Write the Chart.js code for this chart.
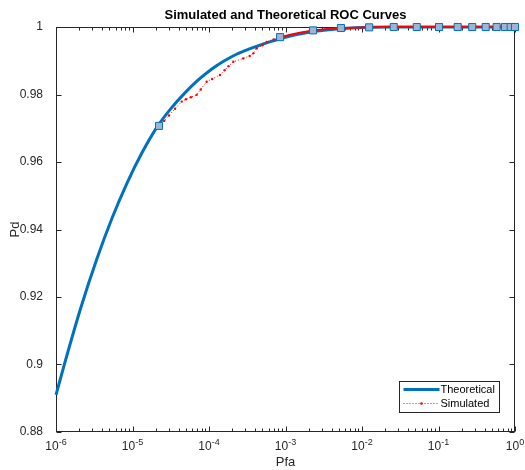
<!DOCTYPE html>
<html>
<head>
<meta charset="utf-8">
<script src="https://cdn.jsdelivr.net/npm/chart.js@4.4.1/dist/chart.umd.min.js"></script>
<style>
  html, body { margin: 0; padding: 0; background: #fff; }
  canvas { display: block; }
</style>
</head>
<body>
<canvas id="roc" width="525" height="470"></canvas>
<script>
// Theoretical curve
const pfaTheory = [1e-6, 1.3e-6, 2.11e-6, 3.4e-6, 5.41e-6, 8.54e-6, 1.335e-5, 2.07e-5, 3.17e-5, 4.81e-5, 7.23e-5, 1.078e-4, 1.591e-4, 2.326e-4, 3.369e-4, 4.834e-4, 6.871e-4, 9.676e-4, 1.35e-3, 2.555e-3, 4.661e-3, 8.2e-3, 2.28e-2, 1e-1, 1];
const pdTheory = [0.891, 0.9004, 0.9168, 0.9311, 0.9434, 0.9539, 0.9628, 0.9702, 0.9758, 0.9804, 0.9843, 0.9875, 0.99, 0.992, 0.9935, 0.9948, 0.9959, 0.9969, 0.9977, 0.9988, 0.9994, 0.9998, 1, 1, 1];

// Simulated curve
const pfaSim = [2.2e-5, 2.6e-5, 3.0e-5, 3.6e-5, 4.4e-5, 5.0e-5, 5.8e-5, 6.9e-5, 7.8e-5, 9.3e-5, 1.1e-4, 1.39e-4, 1.6e-4, 1.8e-4, 2.08e-4, 2.8e-4, 3.4e-4, 3.8e-4, 4.2e-4, 5.0e-4, 5.7e-4, 7.0e-4, 8.5e-4, 1.2e-3, 1.6e-3, 2.3e-3, 3.5e-3, 5.3e-3, 8e-3, 1.24e-2, 2e-2, 5e-2, 1e-1, 3e-1, 1];
const pdSim = [0.9707, 0.9722, 0.9738, 0.9758, 0.9779, 0.9786, 0.9792, 0.9799, 0.9815, 0.9838, 0.9846, 0.9858, 0.9872, 0.9884, 0.9897, 0.9907, 0.9914, 0.9922, 0.9937, 0.9946, 0.9956, 0.9963, 0.997, 0.9978, 0.9984, 0.999, 0.9994, 0.9997, 0.9998, 0.9999, 1, 1, 1, 1, 1];

// square markers along the curves
const pfaMarks = [2.22e-5, 8.5e-4, 2.29e-3, 5.3e-3, 1.24e-2, 2.6e-2, 5.2e-2, 0.1016, 0.178, 0.276, 0.414, 0.575, 0.74, 0.879, 1];
const pdMarks = [0.9707, 0.997, 0.999, 0.9997, 0.9999, 1, 1, 1, 1, 1, 1, 1, 1, 1, 1];

// x tick labels: 10^exp
const xTickVals = [1e-6, 1e-5, 1e-4, 1e-3, 1e-2, 1e-1, 1];
const xTickExp = ["-6", "-5", "-4", "-3", "-2", "-1", "0"];

const axisColor = "#262626";
const fontFam = "'Liberation Sans', Arial, sans-serif";
Chart.defaults.font.family = fontFam;

// box, inward ticks, x labels (with exponent) and legend, MATLAB style
const matlabAxes = {
  id: "matlabAxes",
  beforeDatasetsDraw(chart) {
    const { ctx, chartArea: a, scales: { x, y } } = chart;
    const l = Math.round(a.left) + 0.5, r = Math.round(a.right) - 0.5;
    const t = Math.round(a.top) + 0.5, b = Math.round(a.bottom) - 0.5;
    ctx.save();
    ctx.strokeStyle = axisColor;
    ctx.lineWidth = 1;
    ctx.strokeRect(l, t, r - l, b - t);
    ctx.beginPath();
    // x major + minor ticks
    for (let k = 0; k < xTickVals.length; k++) {
      const px = Math.round(x.getPixelForValue(xTickVals[k])) + 0.5;
      ctx.moveTo(px, b); ctx.lineTo(px, b - 5);
      ctx.moveTo(px, t); ctx.lineTo(px, t + 5);
      if (k < xTickVals.length - 1) {
        for (let m = 2; m <= 9; m++) {
          const mx = Math.round(x.getPixelForValue(m * xTickVals[k])) + 0.5;
          ctx.moveTo(mx, b); ctx.lineTo(mx, b - 3);
          ctx.moveTo(mx, t); ctx.lineTo(mx, t + 3);
        }
      }
    }
    // y ticks
    y.ticks.forEach((tk) => {
      const py = Math.round(y.getPixelForValue(tk.value)) + 0.5;
      ctx.moveTo(l, py); ctx.lineTo(l + 5, py);
      ctx.moveTo(r, py); ctx.lineTo(r - 5, py);
    });
    ctx.stroke();

    // x tick labels
    ctx.fillStyle = axisColor;
    ctx.textBaseline = "alphabetic";
    ctx.textAlign = "left";
    xTickVals.forEach((v, k) => {
      const px = x.getPixelForValue(v);
      ctx.font = "12px " + fontFam;
      const w1 = ctx.measureText("10").width;
      ctx.font = "9px " + fontFam;
      const w2 = ctx.measureText(xTickExp[k]).width;
      const x0 = px - (w1 + w2) / 2;
      ctx.font = "12px " + fontFam;
      ctx.fillText("10", x0, b + 18.5);
      ctx.font = "9px " + fontFam;
      ctx.fillText(xTickExp[k], x0 + w1, b + 13);
    });
    ctx.restore();
  },
  afterDraw(chart) {
    const { ctx, chartArea: a } = chart;
    const lx = Math.round(a.right) - 115.5, ly = Math.round(a.bottom) - 50.5;
    ctx.save();
    ctx.fillStyle = "#fff";
    ctx.fillRect(lx, ly, 100, 31);
    ctx.strokeStyle = axisColor;
    ctx.lineWidth = 1;
    ctx.strokeRect(lx, ly, 100, 31);
    // theoretical
    ctx.strokeStyle = "rgb(0,114,189)";
    ctx.lineWidth = 3;
    ctx.beginPath();
    ctx.moveTo(lx + 4, ly + 8); ctx.lineTo(lx + 40, ly + 8);
    ctx.stroke();
    // simulated
    ctx.strokeStyle = "rgb(255,0,0)";
    ctx.lineWidth = 1;
    ctx.setLineDash([1, 2]);
    ctx.beginPath();
    ctx.moveTo(lx + 4, ly + 22); ctx.lineTo(lx + 40, ly + 22);
    ctx.stroke();
    ctx.setLineDash([]);
    ctx.fillStyle = "rgb(255,0,0)";
    ctx.beginPath();
    ctx.arc(lx + 22, ly + 22, 1.3, 0, Math.PI * 2);
    ctx.fill();
    ctx.fillStyle = "#000";
    ctx.font = "11px " + fontFam;
    ctx.textBaseline = "middle";
    ctx.fillText("Theoretical", lx + 41, ly + 8);
    ctx.fillText("Simulated", lx + 41, ly + 22);
    ctx.restore();
  },
};

const toPts = (xs, ys) => xs.map((v, i) => ({ x: v, y: ys[i] }));

new Chart(document.getElementById("roc"), {
  type: "line",
  data: {
    datasets: [
      {
        label: "Theoretical",
        data: toPts(pfaTheory, pdTheory),
        borderColor: "rgb(0,114,189)",
        borderWidth: 3,
        pointRadius: 0,
        cubicInterpolationMode: "monotone",
        clip: 5,
        order: 3,
      },
      {
        label: "Simulated",
        data: toPts(pfaSim, pdSim),
        borderColor: "rgb(255,0,0)",
        backgroundColor: "rgb(255,0,0)",
        borderWidth: 1,
        pointRadius: (c) => (pfaSim[c.dataIndex] < 8e-4 ? 1.2 : 0),
        pointBorderWidth: 0,
        segment: {
          borderDash: (c) => (pfaSim[c.p0DataIndex] >= 8e-4 ? [] : [1, 2]),
          borderWidth: (c) => (pfaSim[c.p0DataIndex] >= 8e-4 ? 2 : 1),
        },
        clip: 5,
        order: 2,
      },
      {
        label: "marks",
        data: toPts(pfaMarks, pdMarks),
        showLine: false,
        pointStyle: "rect",
        pointRadius: 5,
        pointBorderWidth: 1,
        pointBorderColor: "rgb(0,114,189)",
        pointBackgroundColor: "rgb(160,180,208)",
        clip: false,
        order: 1,
      },
    ],
  },
  options: {
    responsive: false,
    animation: false,
    devicePixelRatio: 1,
    layout: { padding: { left: 0, right: 10, top: 0, bottom: 0 } },
    plugins: {
      legend: { display: false },
      tooltip: { enabled: false },
      title: {
        display: true,
        text: "Simulated and Theoretical ROC Curves",
        fullSize: false,
        color: "#000",
        font: { size: 13, weight: "bold" },
        padding: { top: 8, bottom: 3.4 },
      },
    },
    scales: {
      x: {
        type: "logarithmic",
        min: 1e-6,
        max: 1,
        grid: { display: false },
        border: { display: false },
        ticks: { display: false },
        title: {
          display: true,
          text: "Pfa",
          color: axisColor,
          font: { size: 13 },
          padding: { top: 20, bottom: 0 },
        },
        afterFit: (s) => { s.height = 38; },
      },
      y: {
        min: 0.88,
        max: 1,
        grid: { display: false },
        border: { display: false },
        ticks: {
          stepSize: 0.02,
          color: axisColor,
          font: { size: 12 },
          padding: 5,
          callback: (v) => String(+v.toFixed(2)),
        },
        title: {
          display: true,
          text: "Pd",
          color: axisColor,
          font: { size: 13 },
          padding: { top: 8, bottom: 0 },
        },
        afterFit: (s) => { s.width = 56; },
      },
    },
  },
  plugins: [matlabAxes],
});
</script>
</body>
</html>
